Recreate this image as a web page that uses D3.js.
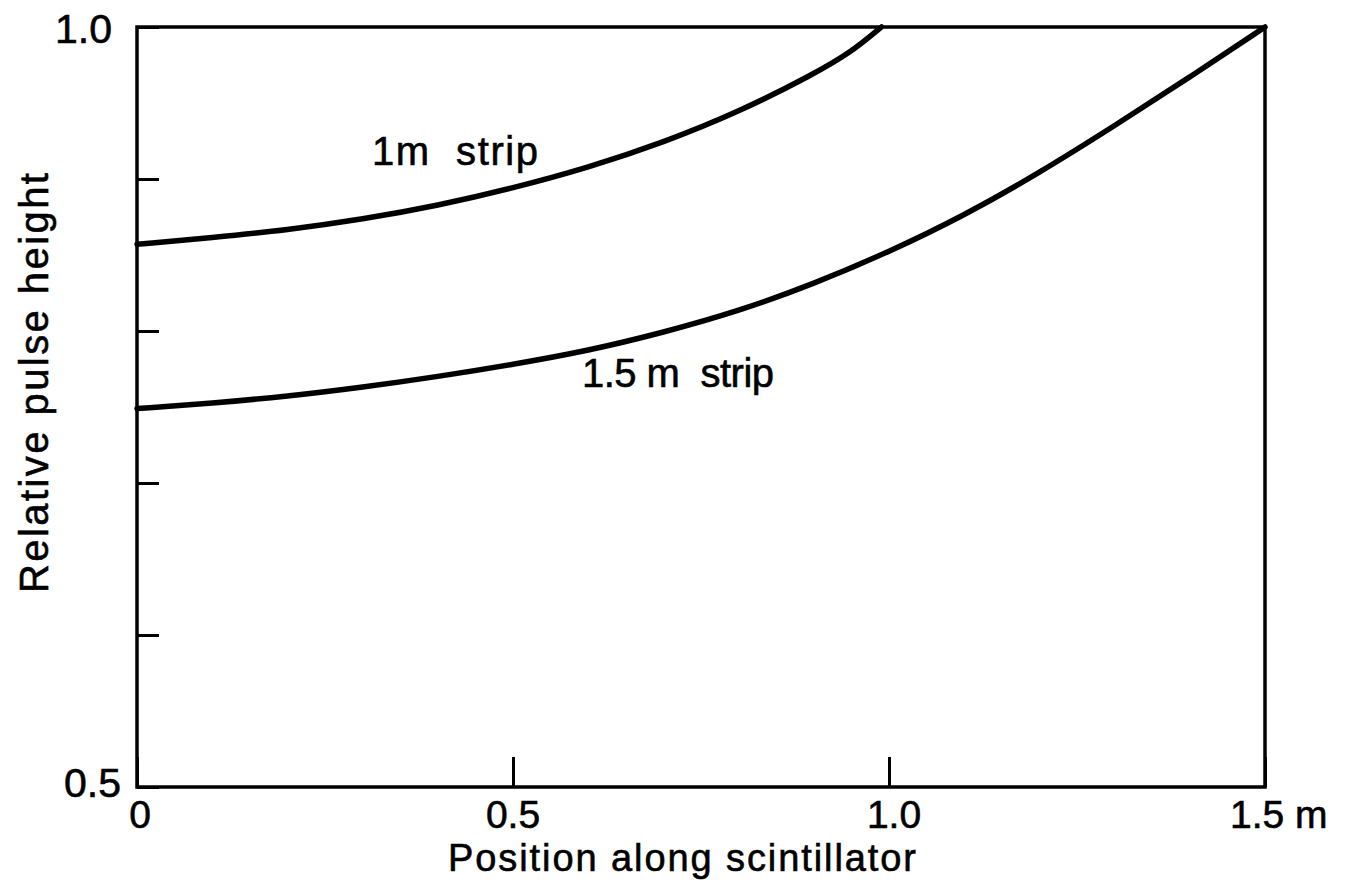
<!DOCTYPE html>
<html>
<head>
<meta charset="utf-8">
<script src="https://cdn.jsdelivr.net/npm/d3@7"></script>
<style>
  html, body { margin: 0; padding: 0; background: #fff; }
  svg { display: block; }
  text { font-family: "Liberation Sans", Arial, sans-serif; fill: #000; stroke: #000; stroke-width: 0.6px; }
</style>
</head>
<body>
<svg id="chart" width="1357" height="894"></svg>
<script>
// Position along the scintillator (m) and relative pulse height
const pos1m   = [0, 0.1, 0.2, 0.3, 0.4, 0.5, 0.6, 0.7, 0.8, 0.9, 0.95, 0.99];
const pulse1m = [0.857, 0.8615, 0.8665, 0.8735, 0.8825, 0.894, 0.9075, 0.924, 0.944, 0.969, 0.9835, 1.0];

const pos15m   = [0, 0.1, 0.2, 0.3, 0.4, 0.5, 0.6, 0.7, 0.8, 0.9, 1.0, 1.1, 1.2, 1.3, 1.4, 1.5];
const pulse15m = [0.749, 0.7525, 0.757, 0.763, 0.770, 0.778, 0.787, 0.799, 0.813, 0.831, 0.852, 0.876, 0.904, 0.935, 0.967, 1.0];

const xTicks = [0, 0.5, 1.0, 1.5];
const xTickLabels = ["0", "0.5", "1.0", "1.5 m"];
const yTicks = [0.5, 0.6, 0.7, 0.8, 0.9, 1.0];
const yLabelTicks = [0.5, 1.0];
const yLabelText = ["0.5", "1.0"];

const margin = {left: 137, top: 27, right: 92, bottom: 107};
const W = 1357, H = 894;
const iw = W - margin.left - margin.right;
const ih = H - margin.top - margin.bottom;

const svg = d3.select("#chart");
const g = svg.append("g").attr("transform", `translate(${margin.left},${margin.top})`);

const x = d3.scaleLinear().domain([0, 1.5]).range([0, iw]);
const y = d3.scaleLinear().domain([0.5, 1.0]).range([ih, 0]);

// frame
g.append("rect")
  .attr("x", 0).attr("y", 0).attr("width", iw).attr("height", ih)
  .attr("fill", "none").attr("stroke", "#000").attr("stroke-width", 3.5);

// inward ticks on the left axis
const yAxis = d3.axisLeft(y).tickValues(yTicks).tickSize(-22).tickFormat("");
const yg = g.append("g").call(yAxis);
yg.select(".domain").remove();
yg.selectAll(".tick line").attr("stroke", "#000").attr("stroke-width", 3);

// inward ticks on the bottom axis
const xAxis = d3.axisBottom(x).tickValues(xTicks).tickSize(-30).tickFormat("");
const xg = g.append("g").attr("transform", `translate(0,${ih})`).call(xAxis);
xg.select(".domain").remove();
xg.selectAll(".tick line").attr("stroke", "#000").attr("stroke-width", 3);

// x tick labels
const xLabelShift = [3, 0, 5, 0];
xTicks.forEach((t, i) => {
  const last = i === xTicks.length - 1;
  g.append("text")
    .attr("x", last ? x(t) - 35 : x(t) + xLabelShift[i])
    .attr("y", ih + 41)
    .attr("text-anchor", last ? "start" : "middle")
    .attr("font-size", 39)
    .attr("xml:space", "preserve")
    .text(xTickLabels[i]);
});

// y tick labels (only the ends of the scale are numbered)
const yLabelRight = [-16, -25];
const yLabelDrop = [10, 16];
yLabelTicks.forEach((t, i) => {
  g.append("text")
    .attr("x", yLabelRight[i]).attr("y", y(t) + yLabelDrop[i])
    .attr("text-anchor", "end")
    .attr("font-size", 41)
    .text(yLabelText[i]);
});

// curves
const line = d3.line()
  .x(d => x(d[0])).y(d => y(d[1]))
  .curve(d3.curveBasis);

[[pos1m, pulse1m], [pos15m, pulse15m]].forEach(([xs, ys]) => {
  g.append("path")
    .datum(d3.zip(xs, ys))
    .attr("d", line)
    .attr("fill", "none").attr("stroke", "#000").attr("stroke-width", 5.5)
    .attr("stroke-linecap", "round");
});

// curve labels
svg.append("text")
  .attr("x", 372).attr("y", 165)
  .attr("font-size", 40)
  .attr("xml:space", "preserve")
  .attr("textLength", 166).attr("lengthAdjust", "spacing")
  .text("1m  strip");

svg.append("text")
  .attr("x", 582).attr("y", 387)
  .attr("font-size", 40)
  .attr("xml:space", "preserve")
  .attr("textLength", 192).attr("lengthAdjust", "spacing")
  .text("1.5 m  strip");

// axis titles
svg.append("text")
  .attr("x", 448).attr("y", 871)
  .attr("font-size", 38)
  .attr("textLength", 468).attr("lengthAdjust", "spacing")
  .text("Position along scintillator");

svg.append("text")
  .attr("transform", "translate(48,593) rotate(-90)")
  .attr("font-size", 40)
  .attr("textLength", 420).attr("lengthAdjust", "spacing")
  .text("Relative pulse height");
</script>
</body>
</html>
